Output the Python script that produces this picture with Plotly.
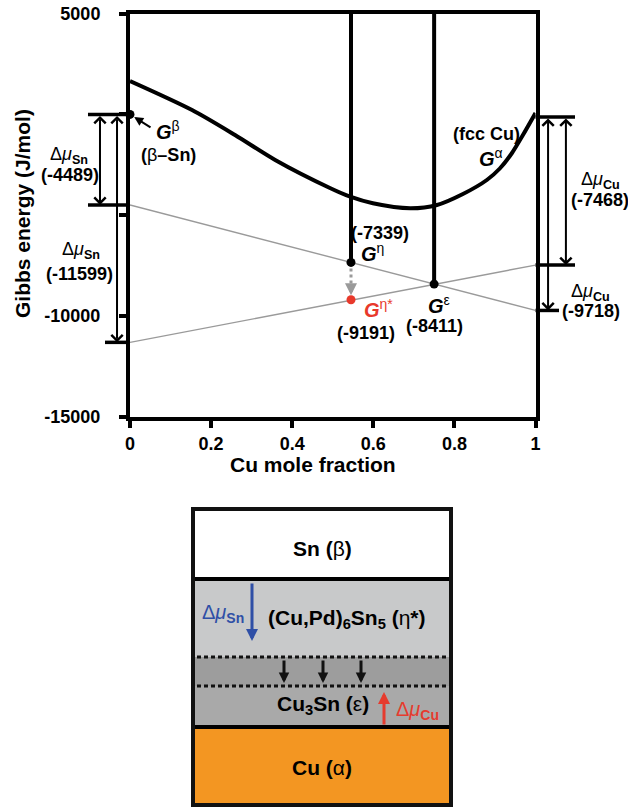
import plotly.graph_objects as go

W, H = 628, 808
FONT = "Liberation Sans, Arial, Helvetica, sans-serif"

# ---------------- data ----------------
cu_frac = [0, 0.153, 0.259, 0.358, 0.493, 0.543, 0.599, 0.691, 0.757, 0.821, 0.880, 0.912, 0.942, 0.969, 1.0]
g_curve = [1654, 217, -1022, -2261, -3649, -4080, -4408, -4655, -4492, -3947, -3253, -2683, -1914, -1022, 68]

x_beta, x_eta, x_eps, x_alpha = 0.0, 0.545, 0.75, 1.0
G_beta = 0
G_eta = -7339
G_eta_star = -9191
G_eps = -8411
G_alpha = -130

tangent1_x = [0, 1]
tangent1_y = [-4489, -9718]
tangent2_x = [0, 1]
tangent2_y = [-11300, -7470]

y_ticks = [5000, 0, -5000, -10000, -15000]
y_ticktext = ["5000", "", "", "-10000", "-15000"]
x_ticks = [0, 0.2, 0.4, 0.6, 0.8, 1]
x_ticktext = ["0", "0.2", "0.4", "0.6", "0.8", "1"]

# ---------------- layout geometry ----------------
XD = [130 / W, 535.5 / W]
YD = [1 - 417 / H, 1 - 13.5 / H]
XR = [0, 1]
YR = [-15000, 5000]


def full_range(dom, rng):
    s = (rng[1] - rng[0]) / (dom[1] - dom[0])
    return [rng[0] - dom[0] * s, rng[0] + (1 - dom[0]) * s]


X2R = full_range(XD, XR)
Y2R = full_range(YD, YR)

fig = go.Figure()

# tangent lines
fig.add_trace(go.Scatter(x=tangent1_x, y=tangent1_y, mode="lines",
                         line=dict(color="#9a9a9a", width=1.4), hoverinfo="skip"))
fig.add_trace(go.Scatter(x=tangent2_x, y=tangent2_y, mode="lines",
                         line=dict(color="#9a9a9a", width=1.4), hoverinfo="skip"))
# Gibbs curve
fig.add_trace(go.Scatter(x=cu_frac, y=g_curve, mode="lines", cliponaxis=False,
                         line=dict(color="black", width=4, shape="spline", smoothing=0.8)))
# vertical compound lines
fig.add_trace(go.Scatter(x=[x_eta, x_eta, None, x_eps, x_eps],
                         y=[YR[1], G_eta, None, YR[1], G_eps], mode="lines",
                         line=dict(color="black", width=4)))
# dotted gray shift arrow
fig.add_trace(go.Scatter(x=[x_eta, x_eta], y=[G_eta - 300, G_eta_star + 550], mode="lines",
                         line=dict(color="#9a9a9a", width=3, dash="dot")))
# points
fig.add_trace(go.Scatter(x=[x_beta, x_eta, x_eps], y=[G_beta, G_eta, G_eps], mode="markers",
                         marker=dict(color="black", size=9), cliponaxis=False))
fig.add_trace(go.Scatter(x=[x_eta], y=[G_eta_star], mode="markers",
                         marker=dict(color="#e8392b", size=9), cliponaxis=False))

# bracket lines on overlay axes (same data units, full figure)
L1, L2, R1, R2 = -0.1036, -0.0617, 1.0974, 1.058
fig.add_trace(go.Scatter(
    x=[L1, 0, None, L1, 0, None, L2, 0, None, 1, R1, None, 1, R1, None, 1, R2],
    y=[G_beta, G_beta, None, tangent1_y[0], tangent1_y[0], None, tangent2_y[0], tangent2_y[0], None,
       G_alpha, G_alpha, None, tangent2_y[1], tangent2_y[1], None, tangent1_y[1], tangent1_y[1]],
    mode="lines", line=dict(color="black", width=3.5), xaxis="x2", yaxis="y2", hoverinfo="skip"))

annotations = []


def dbl_arrow(x, y0, y1):
    return dict(xref="x2", yref="y2", axref="x2", ayref="y2", x=x, y=y1, ax=x, ay=y0,
                text="", showarrow=True, arrowside="end+start", arrowhead=4, startarrowhead=4,
                arrowwidth=2, arrowsize=1.1, startarrowsize=1.1, standoff=0, startstandoff=0,
                arrowcolor="black")


annotations += [
    dbl_arrow(-0.074, G_beta, tangent1_y[0]),
    dbl_arrow(-0.032, G_beta, tangent2_y[0]),
    dbl_arrow(1.031, G_alpha, tangent1_y[1]),
    dbl_arrow(1.075, G_alpha, tangent2_y[1]),
]

# gray arrowhead for eta -> eta*
annotations.append(dict(xref="x", yref="y", axref="x", ayref="y", x=x_eta, y=G_eta_star + 230,
                        ax=x_eta, ay=G_eta_star + 700, text="", showarrow=True, arrowhead=2,
                        arrowwidth=3, arrowsize=0.8, arrowcolor="#9a9a9a", standoff=0))
# G beta pointer
annotations.append(dict(xref="x", yref="y", x=x_beta, y=G_beta, ax=22, ay=14, text="",
                        showarrow=True, arrowhead=2, arrowwidth=2, arrowsize=0.9,
                        arrowcolor="black", standoff=5))


def txt(x, y, s, size=18, color="black", **kw):
    d = dict(xref="paper", yref="paper", x=x / W, y=1 - y / H, text=s, showarrow=False,
             font=dict(family=FONT, size=size, color=color), xanchor="center", yanchor="middle")
    d.update(kw)
    return d


DSN = "Δ<i>μ</i><sub><b>Sn</b></sub>"
DCU = "Δ<i>μ</i><sub><b>Cu</b></sub>"

annotations += [
    txt(22, 214, "<b>Gibbs energy (J/mol)</b>", size=21, textangle=-90),
    txt(313, 465, "<b>Cu mole fraction</b>", size=21),
    txt(69, 156, DSN),
    txt(70, 175, "<b>(-4489)</b>"),
    txt(81, 250, DSN),
    txt(79, 274, "<b>(-11599)</b>"),
    txt(168, 130, "<b><i>G</i></b><sup>β</sup>", size=20),
    txt(168, 155, "<b>(</b>β<b>–Sn)</b>"),
    txt(486, 134, "<b>(fcc Cu)</b>"),
    txt(491, 158, "<b><i>G</i></b><sup>α</sup>", size=20),
    txt(600, 181, DCU),
    txt(600, 200, "<b>(-7468)</b>"),
    txt(590, 292, DCU),
    txt(591, 311, "<b>(-9718)</b>"),
    txt(380, 233, "<b>(-7339)</b>"),
    txt(372, 252, "<b><i>G</i></b><sup>η</sup>", size=20),
    txt(378, 308, "<b><i>G</i></b><sup>η*</sup>", size=20, color="#e8392b"),
    txt(366, 333, "<b>(-9191)</b>"),
    txt(439, 304, "<b><i>G</i></b><sup>ε</sup>", size=20),
    txt(434, 326, "<b>(-8411)</b>"),
]

# ---------------- schematic ----------------
BX0, BX1 = 193, 451
layers_y = [509, 578, 657, 686, 727, 805]
layer_colors = ["#ffffff", "#c8c9ca", "#9d9d9d", "#a9a9a9", "#f39622"]

shapes = []


def P(x):
    return x / W


def Q(y):
    return 1 - y / H


for i, c in enumerate(layer_colors):
    shapes.append(dict(type="rect", xref="paper", yref="paper", x0=P(BX0), x1=P(BX1),
                       y0=Q(layers_y[i]), y1=Q(layers_y[i + 1]), fillcolor=c, line=dict(width=0),
                       layer="above"))
for yy in (579, 727):
    shapes.append(dict(type="line", xref="paper", yref="paper", x0=P(BX0), x1=P(BX1),
                       y0=Q(yy), y1=Q(yy), line=dict(color="black", width=4), layer="above"))
for yy in (657, 686):
    shapes.append(dict(type="line", xref="paper", yref="paper", x0=P(BX0 + 4), x1=P(BX1 - 3),
                       y0=Q(yy), y1=Q(yy), line=dict(color="#111111", width=3, dash="4px,3px"),
                       layer="above"))
shapes.append(dict(type="rect", xref="paper", yref="paper", x0=P(BX0), x1=P(BX1),
                   y0=Q(layers_y[0]), y1=Q(layers_y[-1]), line=dict(color="#111111", width=4),
                   fillcolor="rgba(0,0,0,0)", layer="above"))


def parrow(x, y, ax, ay, color, width=3, size=0.8):
    return dict(xref="paper", yref="paper", x=P(x), y=Q(y), ax=ax, ay=ay, text="",
                showarrow=True, arrowhead=2, arrowwidth=width, arrowsize=size,
                arrowcolor=color, standoff=0)


annotations += [
    parrow(252, 641, 0, -59, "#2f4fa6"),
    parrow(284, 683, 0, -24, "#111111", size=0.7),
    parrow(323, 683, 0, -24, "#111111", size=0.7),
    parrow(361, 683, 0, -24, "#111111", size=0.7),
    parrow(384, 692, 0, 34, "#e63b2e"),
    txt(322, 548, "<b>Sn (</b>β<b>)</b>", size=21),
    txt(347, 619, "<b>(Cu,Pd)<sub>6</sub>Sn<sub>5</sub> (</b>η<b>*)</b>", size=21),
    txt(223, 613, "Δ<i>μ</i><sub><b>Sn</b></sub>", size=20, color="#2f4fa6"),
    txt(323, 705, "<b>Cu<sub>3</sub>Sn (</b>ε<b>)</b>", size=21),
    txt(417, 710, "Δ<i>μ</i><sub><b>Cu</b></sub>", size=20, color="#e63b2e"),
    txt(322, 767, "<b>Cu (</b>α<b>)</b>", size=21),
]

common_off = dict(automargin=False, fixedrange=True, showgrid=False, zeroline=False)

fig.update_layout(
    template="none",
    width=W, height=H, autosize=False, margin=dict(l=0, r=0, t=0, b=0, pad=0, autoexpand=False),
    paper_bgcolor="white", plot_bgcolor="rgba(0,0,0,0)",
    showlegend=False, font=dict(family=FONT, color="black"),
    xaxis=dict(domain=XD, range=XR, tickvals=x_ticks, ticktext=x_ticktext,
               showline=True, linewidth=4, linecolor="black", mirror=True,
               ticks="outside", ticklen=7, tickwidth=4, tickcolor="black",
               tickfont=dict(family=FONT, size=18, color="black", weight="bold"),
               ticklabelstandoff=0, **common_off),
    yaxis=dict(domain=YD, range=YR, tickvals=y_ticks, ticktext=y_ticktext,
               showline=True, linewidth=4, linecolor="black", mirror=True,
               ticks="outside", ticklen=7, tickwidth=4, tickcolor="black",
               tickfont=dict(family=FONT, size=18, color="black", weight="bold"),
               ticklabelstandoff=15, **common_off),
    xaxis2=dict(domain=[0, 1], range=X2R, anchor="y2", showline=False, showticklabels=False,
                ticks="", **common_off),
    yaxis2=dict(domain=[0, 1], range=Y2R, anchor="x2", showline=False, showticklabels=False,
                ticks="", **common_off),
    annotations=annotations, shapes=shapes,
)

fig.write_html("out.html", config={"displayModeBar": False},
               post_script="document.body.style.margin='0';")
